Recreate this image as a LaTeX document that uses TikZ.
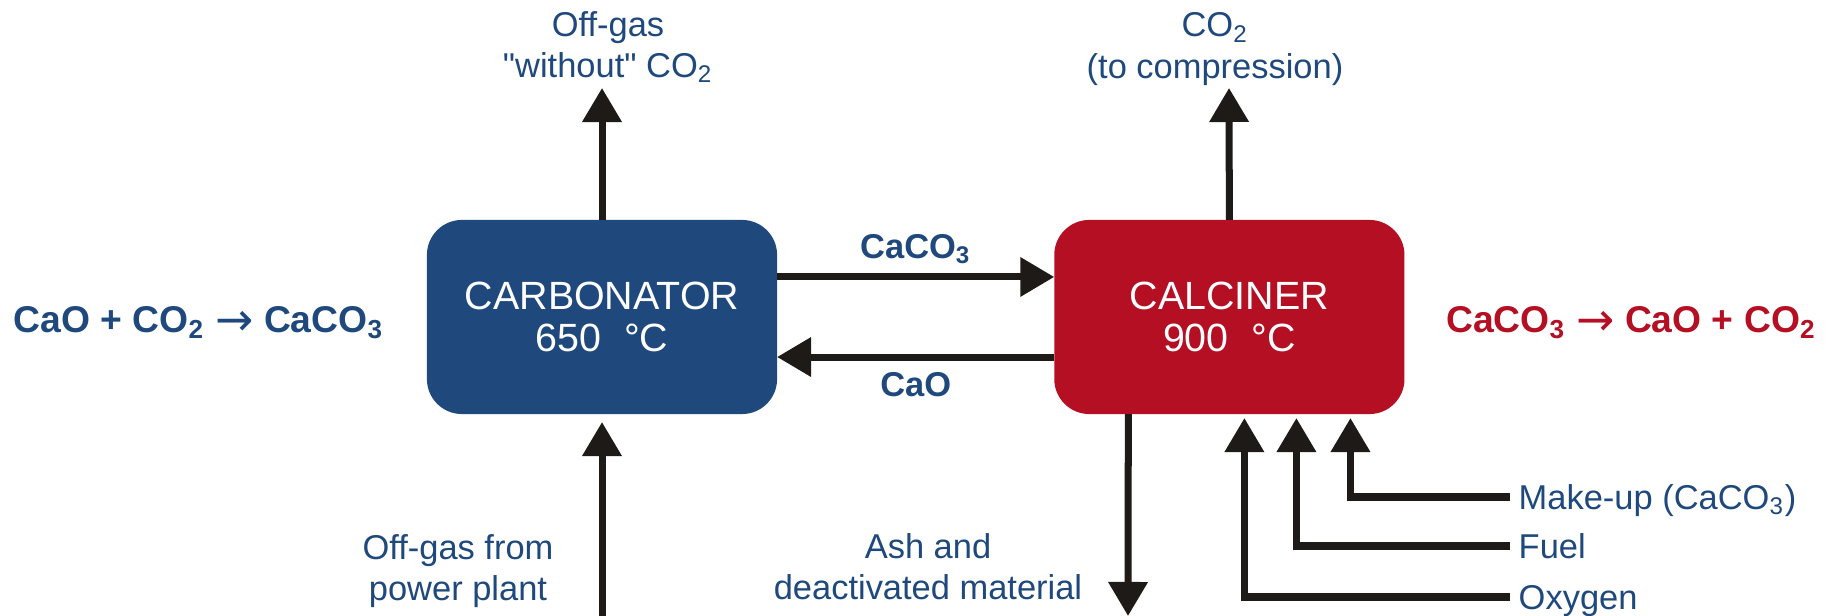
\documentclass[tikz,border=0pt]{standalone}
\usepackage{fontspec}
\setmainfont{Liberation Sans}
\newfontfamily\arrowfont{DejaVu Sans}
\usepackage{tikz}
\usetikzlibrary{positioning,calc,arrows.meta}
\usepackage{xcolor}
\definecolor{carbblue}{RGB}{31,73,125}
\definecolor{calcred}{RGB}{180,15,35}
\definecolor{ink}{RGB}{30,26,23}
\newcommand{\yields}{{\arrowfont\mdseries\fontsize{13pt}{12pt}\selectfont\raisebox{-0.03cm}{→}}}

\begin{document}
\begin{tikzpicture}[
    x=0.01cm,
    y=-0.01cm,
    reactor/.style={
        rounded corners=0.35cm,
        minimum width=3.5cm,
        minimum height=1.94cm,
        inner sep=0pt,
        outer sep=0pt,
        text=white,
        align=center,
        font=\fontsize{11.2pt}{12.1pt}\selectfont
    },
    flow/.style={
        draw=ink,
        line width=0.07cm,
        -{Triangle[width=0.38cm,length=0.34cm]}
    },
    note/.style={
        text=carbblue,
        align=center,
        inner sep=0pt,
        font=\fontsize{9.8pt}{11.7pt}\selectfont
    },
    stream/.style={
        text=carbblue,
        inner sep=0pt,
        font=\bfseries\fontsize{9.8pt}{11.7pt}\selectfont
    },
    reaction/.style={
        inner sep=0pt,
        font=\bfseries\fontsize{10.6pt}{12pt}\selectfont
    },
    feed/.style={
        text=carbblue,
        anchor=west,
        inner xsep=0.08cm,
        inner ysep=0pt,
        text height=0.245cm,
        text depth=0pt,
        font=\fontsize{9.8pt}{11.7pt}\selectfont
    }
]

\useasboundingbox (0,0) rectangle (1837,616);

\node[
    reactor,
    fill=carbblue
] (carb) at (602,317)
{CARBONATOR\\650\hspace{0.3em} °C};

\node[
    reactor,
    fill=calcred,
    right=2.77cm of carb
] (calc)
{CALCINER\\900\hspace{0.3em} °C};

\node[
    reaction,
    text=carbblue,
    anchor=base west
] (carbreac) at (13,333)
{CaO + CO\textsubscript{2} \yields{} CaCO\textsubscript{3}};

\node[
    reaction,
    text=calcred,
    anchor=base east
] (calcreac) at (1817,333)
{CaCO\textsubscript{3} \yields{} CaO + CO\textsubscript{2}};

\draw[flow]
([yshift=0.4cm]carb.east) -- ([yshift=0.4cm]calc.west)
node[stream, midway, above=0.095cm] (cacolabel) {CaCO\textsubscript{3}};

\draw[flow]
([yshift=-0.4cm]calc.west) -- ([yshift=-0.4cm]carb.east)
node[stream, midway, below=0.12cm] (caolabel) {CaO};

\coordinate (offgastip) at (602,88);
\coordinate (co2tip) at (1229,88);
\coordinate (fluein) at (602,616);
\coordinate (ashout) at (1128,616);

\node[note] (offgas) at (608,47)
{Off-gas\\\textquotedbl without\textquotedbl{} CO\textsubscript{2}};

\node[note] (co2out) at (1215,49)
{CO\textsubscript{2}\\(to compression)};

\node[note] (flue) at (458,571)
{Off-gas from\\power plant};

\node[note] (ash) at (928,567)
{Ash and\\deactivated material};

\draw[flow]
(carb.north) -- (offgastip);

\draw[flow]
(calc.north) -- (co2tip);

\draw[flow, shorten >=0.08cm]
(fluein) -- (carb.south);

\draw[flow]
([xshift=-1.01cm]calc.south) -- (ashout);

\node[feed] (makeup) at (1510,497)
{Make-up (CaCO\textsubscript{3})};

\node[feed] (fuel) at (1510,546)
{Fuel};

\node[feed] (oxygen) at (1510,597)
{Oxygen};

\draw[flow, shorten >=0.04cm]
(makeup.west) -| ([xshift=1.21cm]calc.south);

\draw[flow, shorten >=0.04cm]
(fuel.west) -| ([xshift=0.67cm]calc.south);

\draw[flow, shorten >=0.04cm]
(oxygen.west) -| ([xshift=0.15cm]calc.south);

\end{tikzpicture}
\end{document}
